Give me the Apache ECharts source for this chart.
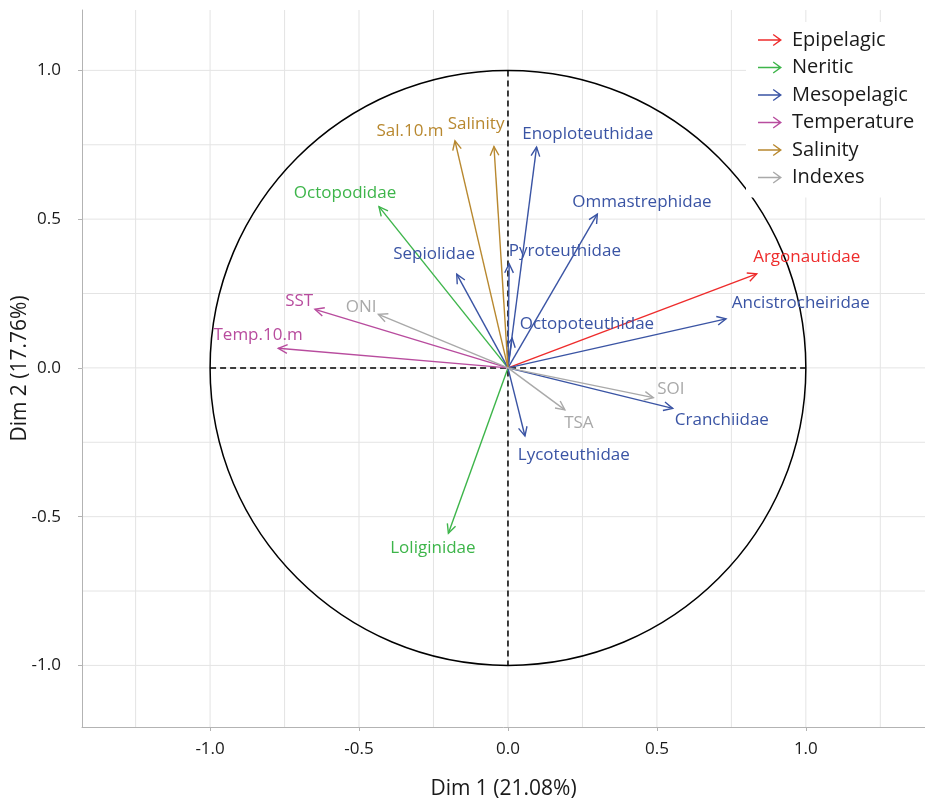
<!DOCTYPE html>
<html>
<head>
<meta charset="utf-8">
<script src="https://cdn.jsdelivr.net/npm/echarts@6/dist/echarts.min.js"></script>
<style>html,body{margin:0;padding:0;background:#fff}#chart{width:925px;height:803px}</style>
</head>
<body>
<div id="chart"></div>
<script>
// ---- data ----
const groupNames = ['Epipelagic', 'Neritic', 'Mesopelagic', 'Temperature', 'Salinity', 'Indexes'];
const groupColors = ['#ee2c2c', '#3db54a', '#3a54a4', '#b84c9e', '#b8882f', '#a9a9a9'];

const varNames = ['Argonautidae', 'Octopodidae', 'Loliginidae', 'Enoploteuthidae', 'Ommastrephidae',
  'Pyroteuthidae', 'Sepiolidae', 'Octopoteuthidae', 'Ancistrocheiridae', 'Cranchiidae', 'Lycoteuthidae',
  'SST', 'Temp.10.m', 'Sal.10.m', 'Salinity', 'ONI', 'SOI', 'TSA'];
const varGroup = ['Epipelagic', 'Neritic', 'Neritic', 'Mesopelagic', 'Mesopelagic',
  'Mesopelagic', 'Mesopelagic', 'Mesopelagic', 'Mesopelagic', 'Mesopelagic', 'Mesopelagic',
  'Temperature', 'Temperature', 'Salinity', 'Salinity', 'Indexes', 'Indexes', 'Indexes'];
const dim1 = [0.835, -0.433, -0.200, 0.096, 0.300, 0.004, -0.172, 0.014, 0.732, 0.553, 0.057,
  -0.648, -0.771, -0.178, -0.047, -0.435, 0.488, 0.191];
const dim2 = [0.316, 0.542, -0.556, 0.742, 0.517, 0.350, 0.315, 0.100, 0.165, -0.136, -0.229,
  0.197, 0.066, 0.763, 0.744, 0.180, -0.100, -0.141];
// label anchor (centre) in data units
const labelDim1 = [1.003, -0.547, -0.252, 0.268, 0.450, 0.191, -0.248, 0.265, 0.983, 0.718, 0.221,
  -0.701, -0.839, -0.329, -0.107, -0.493, 0.547, 0.238];
const labelDim2 = [0.373, 0.588, -0.605, 0.787, 0.558, 0.393, 0.383, 0.148, 0.218, -0.175, -0.292,
  0.225, 0.111, 0.797, 0.820, 0.205, -0.071, -0.185];

const tickValues = [-1.0, -0.5, 0.0, 0.5, 1.0];
const gridValues = [-1.25, -1.0, -0.75, -0.5, -0.25, 0.0, 0.25, 0.5, 0.75, 1.0, 1.25];
const circleRadius = [1];

// ---- chart ----
const FONT = '"Open Sans", "Noto Sans", sans-serif';
const chart = echarts.init(document.getElementById('chart'));

function arrowSeries(gi) {
  const name = groupNames[gi];
  const color = groupColors[gi];
  const idx = [];
  varNames.forEach((v, i) => { if (varGroup[i] === name) idx.push(i); });
  return {
    type: 'custom',
    name: name,
    itemStyle: { color: color },
    z: 5,
    data: idx.map(i => [dim1[i], dim2[i], labelDim1[i], labelDim2[i]]),
    renderItem: function (params, api) {
      const i = idx[params.dataIndex];
      const o = api.coord([0, 0]);
      const p = api.coord([api.value(0), api.value(1)]);
      const l = api.coord([api.value(2), api.value(3)]);
      const a = Math.atan2(p[1] - o[1], p[0] - o[0]);
      const h = 10, s = 0.45;
      return {
        type: 'group',
        children: [
          { type: 'line', shape: { x1: o[0], y1: o[1], x2: p[0], y2: p[1] },
            style: { stroke: color, lineWidth: 1.4 } },
          { type: 'polyline', shape: { points: [
              [p[0] - h * Math.cos(a - s), p[1] - h * Math.sin(a - s)],
              [p[0], p[1]],
              [p[0] - h * Math.cos(a + s), p[1] - h * Math.sin(a + s)]] },
            style: { stroke: color, fill: null, lineWidth: 1.4 } },
          { type: 'text', style: { text: varNames[i], x: l[0], y: l[1], align: 'center',
              verticalAlign: 'middle', fill: color, font: '17px ' + FONT } }
        ]
      };
    }
  };
}

const series = [];
// grid lines
series.push({
  type: 'custom', name: 'gridlines', silent: true, z: 0,
  data: gridValues.map(v => [v]),
  renderItem: function (params, api) {
    const cs = params.coordSys;
    const v = api.value(0);
    const px = api.coord([v, 0])[0];
    const py = api.coord([0, v])[1];
    const st = { stroke: '#e4e4e4', lineWidth: 1 };
    const ch = [];
    if (px > cs.x + 1 && px < cs.x + cs.width - 1)
      ch.push({ type: 'line', shape: { x1: px, y1: cs.y, x2: px, y2: cs.y + cs.height }, style: st });
    if (py > cs.y + 1 && py < cs.y + cs.height - 1)
      ch.push({ type: 'line', shape: { x1: cs.x, y1: py, x2: cs.x + cs.width, y2: py }, style: st });
    return { type: 'group', children: ch };
  }
});
// dashed axes + circle
series.push({
  type: 'custom', name: 'circle', silent: true, z: 3,
  data: circleRadius.map(r => [r]),
  renderItem: function (params, api) {
    const r = api.value(0);
    const o = api.coord([0, 0]);
    const L = api.coord([-r, 0]), R = api.coord([r, 0]);
    const T = api.coord([0, r]), B = api.coord([0, -r]);
    const rr = (R[0] - L[0]) / 2;
    const ry = (B[1] - T[1]) / 2;
    return { type: 'group', children: [
      { type: 'ellipse', shape: { cx: o[0], cy: o[1], rx: rr, ry: ry },
        style: { stroke: '#000', fill: null, lineWidth: 1.5 } },
      { type: 'line', shape: { x1: L[0], y1: o[1], x2: R[0], y2: o[1] },
        style: { stroke: '#000', lineWidth: 1.5, lineDash: [6, 4] } },
      { type: 'line', shape: { x1: o[0], y1: T[1], x2: o[0], y2: B[1] },
        style: { stroke: '#000', lineWidth: 1.5, lineDash: [6, 4] } }
    ] };
  }
});
groupNames.forEach((g, gi) => series.push(arrowSeries(gi)));

const axisCommon = {
  type: 'value',
  splitLine: { show: false },
  axisLine: { show: true, onZero: false, lineStyle: { color: '#b3b3b3', width: 1 } },
  axisTick: { show: true, length: 4, customValues: tickValues, lineStyle: { color: '#b3b3b3' } },
  nameLocation: 'middle',
  nameMoveOverlap: false,
  nameTextStyle: { fontSize: 21, color: '#1a1a1a', fontFamily: FONT }
};

chart.setOption({
  animation: false,
  backgroundColor: '#fff',
  grid: { left: 82, right: 0, top: 10, bottom: 76, containLabel: false, outerBoundsMode: 'none' },
  xAxis: Object.assign({}, axisCommon, {
    min: -1.43, max: 1.40,
    name: 'Dim 1 (21.08%)', nameGap: 52,
    axisLabel: { customValues: tickValues, margin: 14, fontSize: 17, color: '#1a1a1a', fontFamily: FONT,
      formatter: v => v.toFixed(1) }
  }),
  yAxis: Object.assign({}, axisCommon, {
    min: -1.207, max: 1.203,
    name: 'Dim 2 (17.76%)', nameGap: 51,
    axisLabel: { customValues: tickValues, margin: 21, fontSize: 17, color: '#1a1a1a', fontFamily: FONT,
      formatter: v => v.toFixed(1) }
  }),
  legend: {
    data: groupNames,
    orient: 'vertical',
    left: 746, top: 22,
    padding: [8, 20, 10, 12],
    backgroundColor: '#fff',
    itemWidth: 24, itemHeight: 12, itemGap: 7.5,
    icon: 'path://M0,5.3 L22.5,5.3 L22.5,6.7 L0,6.7 Z M15.6,0 L24,6 L15.6,12 L14.8,10.9 L21.6,6 L14.8,1.1 Z',
    textStyle: { fontSize: 20, color: '#1a1a1a', fontFamily: FONT, lineHeight: 20, padding: [0, 0, 0, 5] },
    selectedMode: false
  },
  series: series
});
</script>
</body>
</html>
